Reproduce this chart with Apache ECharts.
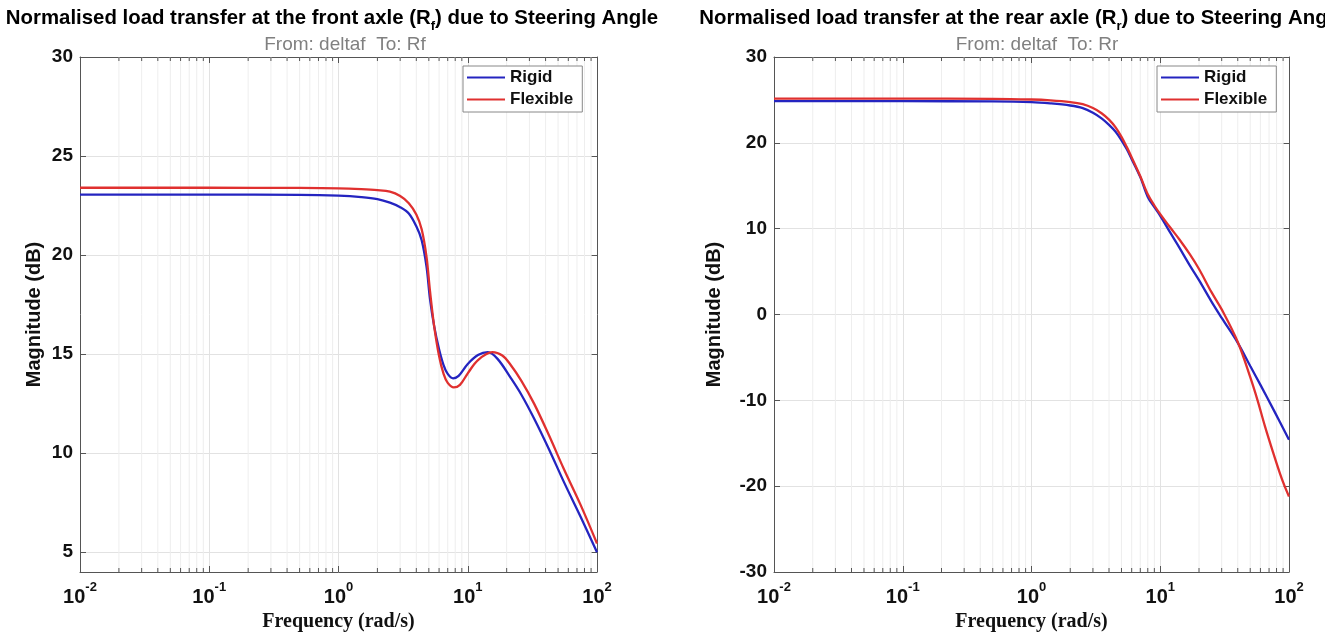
<!DOCTYPE html>
<html><head><meta charset="utf-8">
<script src="https://cdn.jsdelivr.net/npm/echarts@6/dist/echarts.min.js"></script>
<style>html,body{margin:0;padding:0;background:#fff}#c{width:1325px;height:632px}</style>
</head><body><div id="c"></div><script>
// ---------- data ----------
const seriesNames = ['Rigid', 'Flexible'];
const xTickLabels = ['10^-2', '10^-1', '10^0', '10^1', '10^2'];
const minorFreqs = [0.02,0.03,0.04,0.05,0.06,0.07,0.08,0.09,
                    0.2,0.3,0.4,0.5,0.6,0.7,0.8,0.9,
                    2,3,4,5,6,7,8,9,
                    20,30,40,50,60,70,80,90];

const frontRigidF  = [0.01,0.1,0.5,1,1.5,2,2.5,3,3.5,4,4.4,4.8,5.1,5.5,6.0,6.5,7.0,7.7,8.5,10,12,14.3,17,21.5,26,32.6,42.5,55.4,74.5,100];
const frontRigidDb = [23.05,23.05,23.04,23.0,22.93,22.83,22.65,22.42,22.1,21.45,20.75,19.4,17.8,16.4,15.25,14.45,14.0,13.78,13.9,14.5,14.95,15.1,14.76,13.8,12.95,11.75,10.2,8.55,6.8,5.0];
const frontFlexF   = [0.01,0.1,0.5,1,1.5,2,2.5,3,3.5,4,4.4,4.8,5.1,5.5,6.0,6.5,7.0,7.8,8.7,10,12,15.5,18.5,21.5,26,32.6,42.5,55.4,74.5,100];
const frontFlexDb  = [23.4,23.4,23.39,23.37,23.33,23.28,23.2,22.98,22.62,22.05,21.3,19.9,18.2,16.4,14.9,14.0,13.55,13.32,13.45,14.03,14.7,15.1,14.93,14.45,13.65,12.5,10.9,9.2,7.4,5.44];

const rearRigidF   = [0.01,0.1,0.5,1,1.4,2,2.5,3,3.5,4,4.5,5,5.5,6,7,8,9,10,12,14,17,20,25,30,40,50,60,76.5,100];
const rearRigidDb  = [24.85,24.85,24.83,24.75,24.6,24.35,24.05,23.5,22.85,22.1,21.3,20.3,19.25,18.1,16.0,13.7,12.5,11.5,9.5,7.85,5.7,4.0,1.5,-0.4,-3.3,-6.0,-8.2,-11.2,-14.6];
const rearFlexF    = [0.01,0.1,0.5,1,1.4,2,2.5,3,3.5,4,4.5,5,5.5,6,7,8,9,10,12,14,17,20,25,30,40,50,57,65,75,85,92,100];
const rearFlexDb   = [25.15,25.15,25.13,25.05,24.95,24.75,24.5,24.05,23.45,22.7,21.8,20.7,19.5,18.3,16.1,14.0,12.7,11.7,10.1,8.8,7.0,5.3,2.6,0.6,-3.2,-7.3,-10.0,-13.0,-16.0,-18.5,-19.9,-21.2];

const frontYRange = [4, 30];
const rearYRange = [-30, 30];

// ---------- helpers ----------
const zip = (a, b) => a.map((v, i) => [v, b[i]]);
const AX = '#555';
const SANS = 'Liberation Sans';
const BLUE = '#2424c0';
const RED = '#e0302f';

const powRich = {
  b: {fontSize: 20, fontWeight: 'bold', fontFamily: SANS, color: '#111', lineHeight: 26, verticalAlign: 'bottom'},
  s: {fontSize: 13, fontWeight: 'bold', fontFamily: SANS, color: '#111', lineHeight: 14, verticalAlign: 'top'}
};
function powLabel(v) {
  const e = Math.round(Math.log10(v));
  const lab = xTickLabels.find(t => t === '10^' + e) || ('10^' + e);
  const parts = lab.split('^');
  return '{b|' + parts[0] + '}{s|' + parts[1] + '}';
}

function xBottom(g) {
  return {
    type: 'log', logBase: 10, gridIndex: g, min: 0.01, max: 100, position: 'bottom',
    name: 'Frequency (rad/s)', nameLocation: 'middle', nameGap: 29,
    nameTextStyle: {fontFamily: 'Liberation Serif', fontWeight: 'bold', fontSize: 20, color: '#111'},
    axisLine: {onZero: false, lineStyle: {color: AX, width: 1}},
    axisTick: {inside: true, length: 6, lineStyle: {color: AX}},
    axisLabel: {formatter: powLabel, rich: powRich, margin: 9},
    splitLine: {show: true, lineStyle: {color: '#e2e2e2', width: 1}}
  };
}
function xTop(g) {
  return {
    type: 'log', logBase: 10, gridIndex: g, min: 0.01, max: 100, position: 'top',
    axisLine: {onZero: false, lineStyle: {color: AX, width: 1}},
    axisTick: {inside: true, length: 6, lineStyle: {color: AX}},
    axisLabel: {show: false}, splitLine: {show: false}
  };
}
function yLeft(g, range, interval, gap) {
  const ax = {
    type: 'value', gridIndex: g, min: range[0], max: range[1], position: 'left',
    name: 'Magnitude (dB)', nameLocation: 'middle', nameGap: gap, nameRotate: 90,
    nameTextStyle: {fontFamily: SANS, fontWeight: 'bold', fontSize: 20, color: '#111'},
    axisLine: {show: true, onZero: false, lineStyle: {color: AX, width: 1}},
    axisTick: {show: true, inside: true, length: 6, lineStyle: {color: AX}},
    axisLabel: {fontFamily: SANS, fontWeight: 'bold', fontSize: 19, color: '#111', margin: 7,
      formatter: v => (Math.abs(v % interval) < 1e-9 ? String(v) : '')},
    splitLine: {show: true, lineStyle: {color: '#e2e2e2', width: 1}}
  };
  if (range[0] % interval === 0) ax.interval = interval; else { ax.minInterval = interval; ax.maxInterval = interval; }
  return ax;
}
function yRight(g, range, interval) {
  const ax = {
    type: 'value', gridIndex: g, min: range[0], max: range[1], position: 'right',
    axisLine: {show: true, onZero: false, lineStyle: {color: AX, width: 1}},
    axisTick: {show: true, inside: true, length: 6, lineStyle: {color: AX}},
    axisLabel: {show: false}, splitLine: {show: false}
  };
  if (range[0] % interval === 0) ax.interval = interval; else { ax.minInterval = interval; ax.maxInterval = interval; }
  return ax;
}
function minorSeries(xi, yi, range) {
  return {
    type: 'custom', xAxisIndex: xi, yAxisIndex: yi, silent: true, z: 1,
    data: minorFreqs.map(f => [f, range[0]]),
    encode: {x: 0, y: 1},
    renderItem: (params, api) => {
      const f = api.value(0);
      const b = api.coord([f, range[0]]);
      const t = api.coord([f, range[1]]);
      return {type: 'group', children: [
        {type: 'line', shape: {x1: b[0], y1: b[1], x2: t[0], y2: t[1]}, style: {stroke: '#eeeeee', lineWidth: 1}},
        {type: 'line', shape: {x1: b[0], y1: b[1], x2: b[0], y2: b[1] - 4}, style: {stroke: AX, lineWidth: 1}},
        {type: 'line', shape: {x1: t[0], y1: t[1], x2: t[0], y2: t[1] + 4}, style: {stroke: AX, lineWidth: 1}}
      ]};
    }
  };
}
function lineSeries(name, xi, yi, data, color) {
  return {name, type: 'line', xAxisIndex: xi, yAxisIndex: yi, data, smooth: 0.35, symbol: 'none', z: 3,
    lineStyle: {color, width: 2.3}, itemStyle: {color}};
}

const titleRich = {
  n: {fontSize: 20.4, fontWeight: 'bold', fontFamily: SANS, color: '#000', lineHeight: 22, verticalAlign: 'top'},
  s: {fontSize: 13, fontWeight: 'bold', fontFamily: SANS, color: '#000', lineHeight: 25, verticalAlign: 'bottom'}
};
const subStyle = {fontSize: 19, fontFamily: SANS, color: '#808080', fontWeight: 'normal'};

const legendCommon = {
  orient: 'vertical', data: seriesNames, top: 66, icon: 'rect', itemWidth: 38, itemHeight: 2, itemGap: 5,
  backgroundColor: '#fff', borderColor: '#888', borderWidth: 1, borderRadius: 0, padding: [3, 9, 4, 4],
  textStyle: {fontFamily: SANS, fontWeight: 'bold', fontSize: 17, color: '#111'}, selectedMode: false
};

const option = {
  backgroundColor: '#fff',
  animation: false,
  title: [
    {text: '{n|Normalised load transfer at the front axle (R}{s|f}{n|) due to Steering Angle}', left: 327, top: 3, textAlign: 'center', textStyle: {rich: titleRich}},
    {text: 'From: deltaf  To: Rf', left: 340, top: 30, textAlign: 'center', textStyle: subStyle},
    {text: '{n|Normalised load transfer at the rear axle (R}{s|r}{n|) due to Steering Angle}', left: 1017, top: 3, textAlign: 'center', textStyle: {rich: titleRich}},
    {text: 'From: deltaf  To: Rr', left: 1032, top: 30, textAlign: 'center', textStyle: subStyle}
  ],
  legend: [
    Object.assign({}, legendCommon, {left: 463}),
    Object.assign({}, legendCommon, {left: 1157})
  ],
  grid: [
    {left: 80, top: 57, width: 517, height: 515, containLabel: false, outerBoundsMode: 'none'},
    {left: 774, top: 57, width: 515, height: 515, containLabel: false, outerBoundsMode: 'none'}
  ],
  xAxis: [xBottom(0), xTop(0), xBottom(1), xTop(1)],
  yAxis: [yLeft(0, frontYRange, 5, 36), yRight(0, frontYRange, 5), yLeft(1, rearYRange, 10, 50), yRight(1, rearYRange, 10)],
  series: [
    minorSeries(0, 0, frontYRange),
    minorSeries(2, 2, rearYRange),
    lineSeries('Rigid', 0, 0, zip(frontRigidF, frontRigidDb), BLUE),
    lineSeries('Flexible', 0, 0, zip(frontFlexF, frontFlexDb), RED),
    lineSeries('Rigid', 2, 2, zip(rearRigidF, rearRigidDb), BLUE),
    lineSeries('Flexible', 2, 2, zip(rearFlexF, rearFlexDb), RED)
  ]
};
const chart = echarts.init(document.getElementById('c'), null, {renderer: 'canvas'});
chart.setOption(option);
</script></body></html>
